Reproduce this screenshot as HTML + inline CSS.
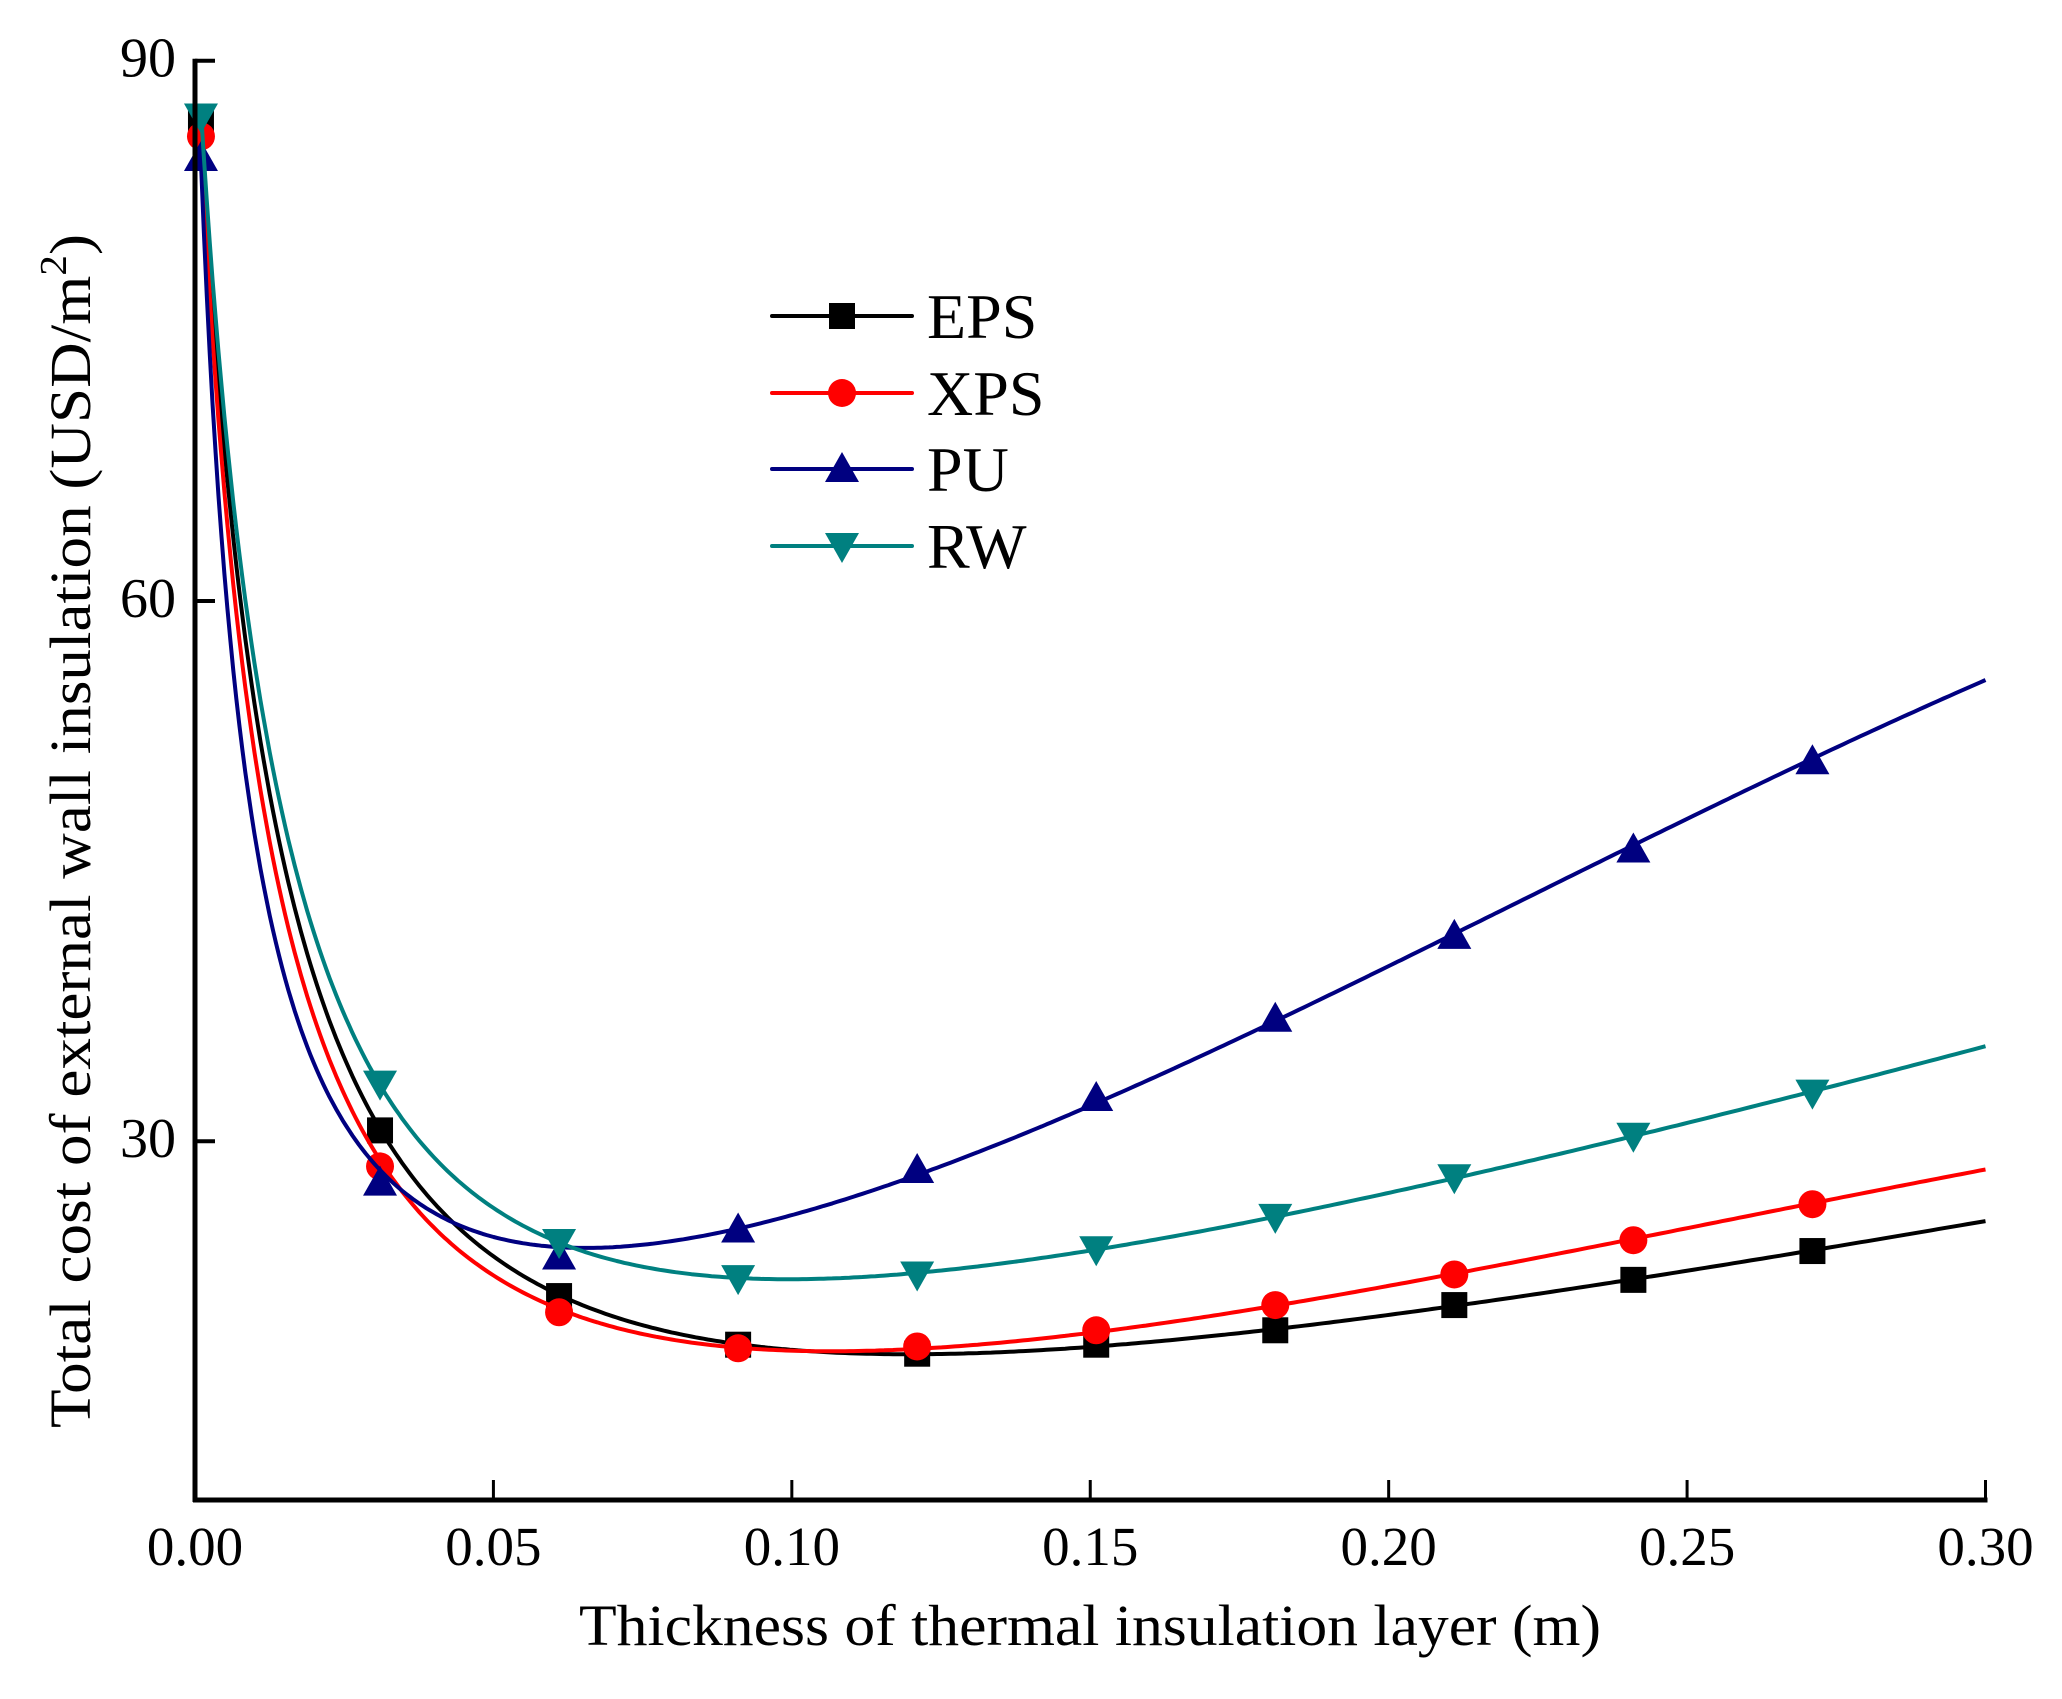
<!DOCTYPE html>
<html><head><meta charset="utf-8"><style>
html,body{margin:0;padding:0;background:#fff;}
svg{display:block;font-family:"Liberation Serif","Times New Roman",serif;}
</style></head><body>
<svg id="chart" width="2062" height="1699" viewBox="0 0 2062 1699" xmlns="http://www.w3.org/2000/svg">
<g id="series-layer"></g>
<g id="axes-layer"></g>
<text x="1090" y="1645" font-size="58" text-anchor="middle" textLength="1022" lengthAdjust="spacingAndGlyphs">Thickness of thermal insulation layer (m)</text>
<text transform="translate(90,831) rotate(-90)" font-size="58" text-anchor="middle" textLength="1194" lengthAdjust="spacingAndGlyphs">Total cost of external wall insulation (USD/m<tspan dy="-24" font-size="38">2</tspan><tspan dy="24">)</tspan></text>
<g id="legend"></g>
</svg>
<script>
const markerX = [0.001,0.031,0.061,0.091,0.121,0.151,0.181,0.211,0.241,0.271];
const epsValues = [86.6,30.6,21.4,18.7,18.2,18.7,19.5,20.9,22.3,23.9];
const xpsValues = [85.8,28.6,20.5,18.5,18.6,19.5,20.9,22.6,24.5,26.5];
const puValues  = [84.6,27.7,23.6,25.1,28.4,32.4,36.8,41.4,46.2,51.1];
const rwValues  = [86.9,33.2,24.4,22.4,22.6,24.0,25.8,28.0,30.3,32.7];
const endX = 0.3;
const epsEnd = 25.6, xpsEnd = 28.5, puEnd = 55.8, rwEnd = 35.3;
const epsExtraX = [0.0029,0.0072,0.0112,0.0155,0.0223], epsExtraY = [76.7,60,52.9,44.6,36.8];
const xpsExtraX = [0.0025,0.0063,0.0100,0.0136,0.0204], xpsExtraY = [76.7,60,52.9,44.6,36.8];
const puExtraX  = [0.0020,0.0050,0.0078,0.0112,0.0184], puExtraY  = [76.7,60,52.9,44.6,36.8];
const rwExtraX  = [0.0034,0.0081,0.0120,0.0172,0.0254], rwExtraY  = [76.7,60,52.9,44.6,36.8];
const xTicks = [0,0.05,0.10,0.15,0.20,0.25,0.30];
const xTickLabels = ["0.00","0.05","0.10","0.15","0.20","0.25","0.30"];
const yTicks = [30,60,90];
const yTickLabels = ["30","60","90"];
const seriesNames = ["EPS","XPS","PU","RW"];

const NS="http://www.w3.org/2000/svg";
const X0=195,X1=1985.5,XMIN=0,XMAX=0.3;
const Y90=60.7,Y30=1141.2,YBOT=1500;
function sx(v){return X0+(v-XMIN)/(XMAX-XMIN)*(X1-X0);}
function sy(v){return Y30+(v-30)/(90-30)*(Y90-Y30);}
function mk(tag,attrs,parent){const e=document.createElementNS(NS,tag);for(const k in attrs)e.setAttribute(k,attrs[k]);parent.appendChild(e);return e;}

const seriesLayer=document.getElementById('series-layer');
const axes=document.getElementById('axes-layer');
const legend=document.getElementById('legend');

const defs=[
 {name:"eps",color:"#000000",vals:epsValues,end:epsEnd,ex:epsExtraX,ey:epsExtraY,shape:"square"},
 {name:"xps",color:"#ff0000",vals:xpsValues,end:xpsEnd,ex:xpsExtraX,ey:xpsExtraY,shape:"circle"},
 {name:"pu",color:"#000080",vals:puValues,end:puEnd,ex:puExtraX,ey:puExtraY,shape:"up"},
 {name:"rw",color:"#008080",vals:rwValues,end:rwEnd,ex:rwExtraX,ey:rwExtraY,shape:"down"}
];

// least-squares smooth fit: y = a + b/(x+c) + d x + e x^2 + f x^3, c chosen by grid search
function basis(x,c){return [1,1/(x+c),x,x*x,x*x*x];}
function solve(A,B){
  const n=B.length;A=A.map(r=>r.slice());B=B.slice();
  for(let i=0;i<n;i++){
    let p=i;for(let k=i+1;k<n;k++)if(Math.abs(A[k][i])>Math.abs(A[p][i]))p=k;
    [A[i],A[p]]=[A[p],A[i]];[B[i],B[p]]=[B[p],B[i]];
    for(let k=i+1;k<n;k++){const f=A[k][i]/A[i][i];for(let j=i;j<n;j++)A[k][j]-=f*A[i][j];B[k]-=f*B[i];}
  }
  const x=new Array(n).fill(0);
  for(let i=n-1;i>=0;i--){let s=B[i];for(let j=i+1;j<n;j++)s-=A[i][j]*x[j];x[i]=s/A[i][i];}
  return x;
}
function fit(data){
  let best=null;
  for(let c=0.001;c<=0.02;c+=0.0005){
    const m=5,A=[...Array(m)].map(()=>new Array(m).fill(0)),B=new Array(m).fill(0);
    data.forEach(p=>{const f=basis(p[0],c);for(let i=0;i<m;i++){B[i]+=f[i]*p[1];for(let j=0;j<m;j++)A[i][j]+=f[i]*f[j];}});
    const co=solve(A,B);
    let sse=0;data.forEach(p=>{const f=basis(p[0],c);let v=0;for(let i=0;i<m;i++)v+=co[i]*f[i];sse+=(v-p[1])*(v-p[1]);});
    if(!best||sse<best.sse)best={sse,c,co};
  }
  return x=>{const f=basis(x,best.c);let v=0;for(let i=0;i<5;i++)v+=best.co[i]*f[i];return v;};
}
function smoothPath(data){
  const F=fit(data);
  const x0=data[0][0],x1=data[data.length-1][0];
  let s="";
  const N=400;
  for(let k=0;k<=N;k++){
    const u=k/N;
    const xv=x0+(x1-x0)*(u*u*0.35+u*0.65)*(1) ;
    s+=(k?" L":"M")+sx(xv).toFixed(1)+","+sy(F(xv)).toFixed(1);
  }
  return s;
}
function drawMarker(shape,cx,cy,color,parent){
  let e;
  if(shape==="square") e=mk('rect',{x:cx-13,y:cy-13,width:26,height:26,fill:color},parent);
  else if(shape==="circle") e=mk('circle',{cx:cx,cy:cy,r:14,fill:color},parent);
  else if(shape==="up") e=mk('polygon',{points:`${cx},${cy-17} ${cx-17},${cy+13} ${cx+17},${cy+13}`,fill:color},parent);
  else e=mk('polygon',{points:`${cx},${cy+17} ${cx-17},${cy-13} ${cx+17},${cy-13}`,fill:color},parent);
  return e;
}

defs.forEach(s=>{
  let data=markerX.map((x,i)=>[x,s.vals[i]]);
  s.ex.forEach((x,i)=>data.push([x,s.ey[i]]));
  data.push([endX,s.end]);
  data.sort((a,b)=>a[0]-b[0]);
  const g=mk('g',{},seriesLayer);
  
  
  const path=mk('path',{d:smoothPath(data),fill:'none',stroke:s.color,'stroke-width':4,'stroke-linejoin':'round'},g);
  
  
  markerX.forEach((x,i)=>{
    const m=drawMarker(s.shape,sx(x),sy(s.vals[i]),s.color,g);
    
    
  });
});

const xa=mk('line',{x1:X0-2,y1:YBOT,x2:X1+2,y2:YBOT,stroke:'#000','stroke-width':5},axes);


const ya=mk('line',{x1:X0,y1:Y90-2,x2:X0,y2:YBOT+2,stroke:'#000','stroke-width':5},axes);


xTicks.forEach((v,i)=>{
  const t=mk('line',{x1:sx(v),y1:YBOT,x2:sx(v),y2:YBOT-20,stroke:'#000','stroke-width':3},axes);
  
  
  const l=mk('text',{x:sx(v),y:1565,'font-size':55,'text-anchor':'middle'},axes);
  l.textContent=xTickLabels[i];
  
  
});
yTicks.forEach((v,i)=>{
  const t=mk('line',{x1:X0,y1:sy(v),x2:X0+20,y2:sy(v),stroke:'#000','stroke-width':4},axes);
  
  
  const l=mk('text',{x:176,y:sy(v)+16,'font-size':56,'text-anchor':'end'},axes);
  l.textContent=yTickLabels[i];
  
  
});

const legY=[316,393,469,546];
defs.forEach((s,i)=>{
  const g=mk('g',{},legend);
  
  
  mk('line',{x1:772,y1:legY[i],x2:912,y2:legY[i],stroke:s.color,'stroke-width':4,'stroke-linecap':'round'},g);
  drawMarker(s.shape,842,legY[i],s.color,g);
  const t=mk('text',{x:927,y:legY[i]+22,'font-size':64},g);
  t.textContent=seriesNames[i];
});
</script>
</body></html>
